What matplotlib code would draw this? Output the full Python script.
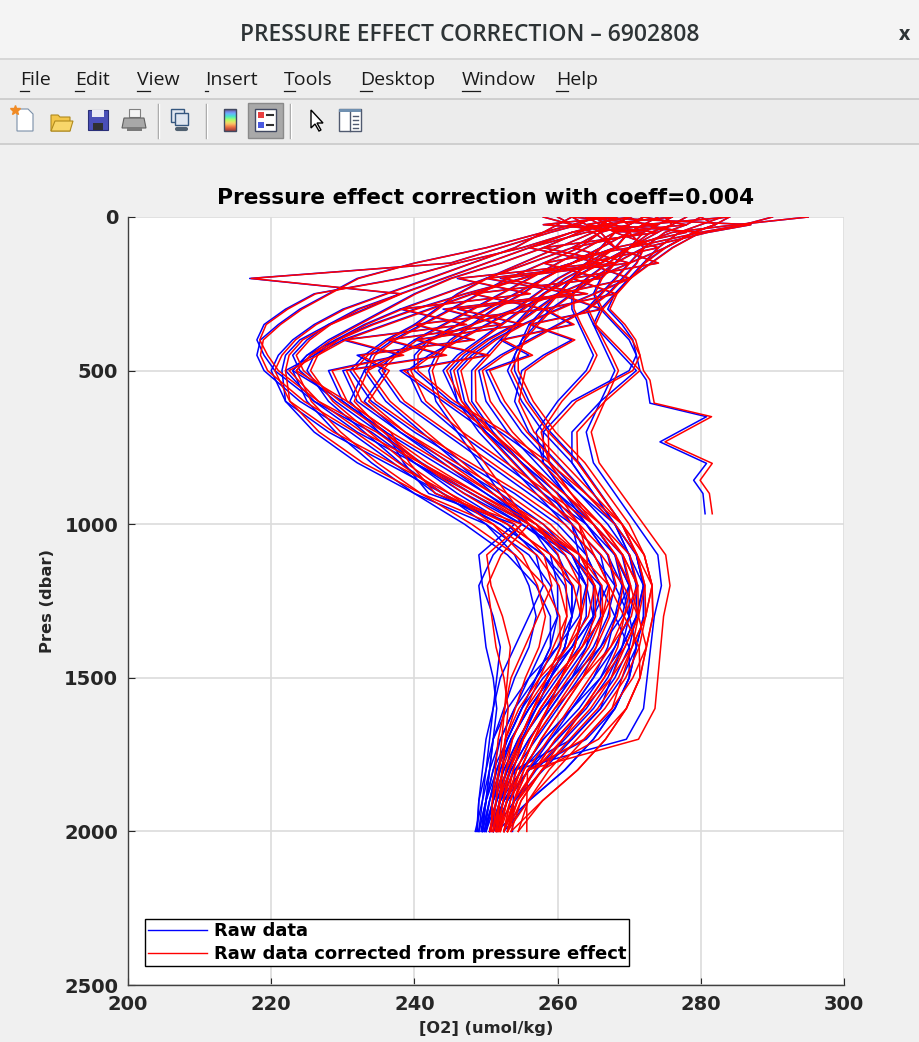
import numpy as np
import matplotlib
matplotlib.use('Agg')
import matplotlib.pyplot as plt
from matplotlib.patches import Rectangle, Polygon
from matplotlib.lines import Line2D
from matplotlib.textpath import TextPath
from matplotlib.font_manager import FontProperties

# ---------------- data ----------------
pres_levels = [0, 25, 50, 100, 150, 200, 250, 300, 350, 400, 450, 500, 600, 700,
               800, 900, 1000, 1100, 1200, 1300, 1400, 1500, 1600, 1700, 1800, 1900, 2000]

raw01 = [266, 262, 258, 250, 240, 232, 228, 224, 221, 218.5, 218, 219, 224, 231, 237, 243, 252, 258, 262, 262, 260, 257, 254, 252, 250.5, 249.5, 248.5]
cor01 = [266, 262, 258, 250.1, 240.1, 232.2, 228.2, 224.3, 221.3, 218.9, 218.5, 219.5, 224.6, 231.7, 237.8, 243.9, 253, 259.1, 263.2, 263.3, 261.4, 258.5, 255.6, 253.7, 252.3, 251.4, 250.5]
raw02 = [270, 268, 262, 255, 246, 238, 226, 222, 219, 218, 219, 220.5, 226, 234, 240, 247, 255, 262, 264, 263, 260, 256, 253, 251, 250, 249, 248.8]
cor02 = [270, 268, 262, 255.1, 246.1, 238.2, 226.2, 222.3, 219.3, 218.4, 219.5, 221, 226.6, 234.7, 240.8, 247.9, 256, 263.1, 265.2, 264.3, 261.4, 257.5, 254.6, 252.7, 251.8, 250.9, 250.8]
raw03 = [265, 263, 259, 252, 245, 217, 238, 232, 228, 225, 223, 224, 229, 235, 240, 246, 253, 257, 258, 256, 254, 252, 251, 250, 249.5, 249, 248.7]
cor03 = [265, 263, 259, 252.1, 245.1, 217.2, 238.2, 232.3, 228.3, 225.4, 223.5, 224.5, 229.6, 235.7, 240.8, 246.9, 254, 258.1, 259.2, 257.3, 255.4, 253.5, 252.6, 251.7, 251.3, 250.9, 250.7]
raw04 = [268, 266, 263, 258, 252, 245, 240, 236, 232, 228, 225, 223, 230, 236, 238.5, 242, 254, 249, 249.5, 251, 252, 251.5, 251, 250.5, 250, 249.5, 249]
cor04 = [268, 266, 263, 258.1, 252.1, 245.2, 240.2, 236.3, 232.3, 228.4, 225.5, 223.5, 230.6, 236.7, 239.3, 242.9, 255, 250.1, 250.7, 252.3, 253.4, 253, 252.6, 252.2, 251.8, 251.4, 251]
raw05 = [272, 270, 266, 262, 256, 250, 244, 238, 233, 229, 226, 225, 228, 233, 238, 244, 250, 254, 256, 257, 256, 254, 252.5, 251, 250.5, 250, 249.5]
cor05 = [272, 270, 266, 262.1, 256.1, 250.2, 244.2, 238.3, 233.3, 229.4, 226.5, 225.5, 228.6, 233.7, 238.8, 244.9, 251, 255.1, 257.2, 258.3, 257.4, 255.5, 254.1, 252.7, 252.3, 251.9, 251.5]
raw06 = [260, 262, 265, 268, 262, 255, 248, 242, 236, 230, 226, 222, 226, 232, 240, 248, 256, 262, 266, 265, 262, 258, 255, 253, 251.5, 250.5, 249.8]
cor06 = [260, 262, 265, 268.1, 262.1, 255.2, 248.2, 242.3, 236.3, 230.4, 226.5, 222.5, 226.6, 232.7, 240.8, 248.9, 257, 263.1, 267.2, 266.3, 263.4, 259.5, 256.6, 254.7, 253.3, 252.4, 251.8]
raw07 = [268, 270, 268, 264, 260, 256, 252, 248, 244, 240, 237, 235, 238, 244, 250, 256, 262, 266, 267, 265, 262, 259, 256, 253.5, 252, 251, 250]
cor07 = [268, 270, 268, 264.1, 260.1, 256.2, 252.2, 248.3, 244.3, 240.4, 237.5, 235.5, 238.6, 244.7, 250.8, 256.9, 263, 267.1, 268.2, 266.3, 263.4, 260.5, 257.6, 255.2, 253.8, 252.9, 252]
raw08 = [274, 272, 270, 268, 264, 260, 257, 254, 250, 246, 242, 239, 241, 246, 252, 258, 264, 268, 270, 268, 266, 262, 258, 255, 253, 251.5, 250.5]
cor08 = [274, 272, 270, 268.1, 264.1, 260.2, 257.2, 254.3, 250.3, 246.4, 242.5, 239.5, 241.6, 246.7, 252.8, 258.9, 265, 269.1, 271.2, 269.3, 267.4, 263.5, 259.6, 256.7, 254.8, 253.4, 252.5]
raw09 = [276, 274, 272, 270, 268, 266, 265, 266, 268, 270, 271, 270, 262, 258, 258, 261, 265, 268, 270, 269, 266, 263, 260, 257, 254, 252, 251]
cor09 = [276, 274, 272, 270.1, 268.1, 266.2, 265.2, 266.3, 268.3, 270.4, 271.5, 270.5, 262.6, 258.7, 258.8, 261.9, 266, 269.1, 271.2, 270.3, 267.4, 264.5, 261.6, 258.7, 255.8, 253.9, 253]
raw10 = [280, 278, 275, 272, 270, 268, 266, 264, 265, 267, 269, 271, 266, 262, 262, 265, 268, 270, 272, 272, 271, 269, 266, 262, 258, 254, 251]
cor10 = [280, 278, 275, 272.1, 270.1, 268.2, 266.2, 264.3, 265.3, 267.4, 269.5, 271.5, 266.6, 262.7, 262.8, 265.9, 269, 271.1, 273.2, 273.3, 272.4, 270.5, 267.6, 263.7, 259.8, 255.9, 253]
raw12 = [264, 266, 268, 266, 262, 258, 254, 250, 246, 242, 240, 240, 245, 252, 258, 263, 268, 271, 272, 271, 269, 267, 264, 260, 256, 253, 251.5]
cor12 = [264, 266, 268, 266.1, 262.1, 258.2, 254.2, 250.3, 246.3, 242.4, 240.5, 240.5, 245.6, 252.7, 258.8, 263.9, 269, 272.1, 273.2, 272.3, 270.4, 268.5, 265.6, 261.7, 257.8, 254.9, 253.5]
raw13 = [270, 268, 265, 260, 255, 250, 246, 243, 240, 236, 233, 231, 234, 240, 247, 254, 260, 264, 266, 266, 264, 261, 258, 255, 253, 251, 250]
cor13 = [270, 268, 265, 260.1, 255.1, 250.2, 246.2, 243.3, 240.3, 236.4, 233.5, 231.5, 234.6, 240.7, 247.8, 254.9, 261, 265.1, 267.2, 267.3, 265.4, 262.5, 259.6, 256.7, 254.8, 252.9, 252]
raw14 = [262, 264, 266, 268, 265, 261, 258, 255, 252, 249, 246, 244, 246, 250, 255, 260, 265, 269, 270, 270, 268, 266, 263, 259, 255, 252.5, 251]
cor14 = [262, 264, 266, 268.1, 265.1, 261.2, 258.2, 255.3, 252.3, 249.4, 246.5, 244.5, 246.6, 250.7, 255.8, 260.9, 266, 270.1, 271.2, 271.3, 269.4, 267.5, 264.6, 260.7, 256.8, 254.4, 253]
raw15 = [283, 280, 277, 274, 272, 270, 268, 266, 265, 266, 267, 268, 266, 264, 265, 268, 271, 274, 274.5, 273.5, 273, 272.5, 272, 269.6, 254, 253.8, 253.7]
cor15 = [283, 280, 277, 274.1, 272.1, 270.2, 268.2, 266.3, 265.3, 266.4, 267.5, 268.5, 266.6, 264.7, 265.8, 268.9, 272, 275.1, 275.7, 274.8, 274.4, 274, 273.6, 271.3, 255.8, 255.7, 255.7]
raw16 = [290, 286, 280, 276, 273, 270, 265, 260, 255, 251, 248, 246, 247, 250, 254, 258, 262, 264, 266, 268, 270, 270, 268, 264, 256, 252.5, 250.5]
cor16 = [290, 286, 280, 276.1, 273.1, 270.2, 265.2, 260.3, 255.3, 251.4, 248.5, 246.5, 247.6, 250.7, 254.8, 258.9, 263, 265.1, 267.2, 269.3, 271.4, 271.5, 269.6, 265.7, 257.8, 254.4, 252.5]
raw17 = [275, 276, 274, 270, 266, 262, 258, 256, 254, 252, 250, 248, 248, 251, 255, 259, 262, 263, 263, 262, 261, 259, 257, 255, 253, 251.5, 250.5]
cor17 = [275, 276, 274, 270.1, 266.1, 262.2, 258.2, 256.3, 254.3, 252.4, 250.5, 248.5, 248.6, 251.7, 255.8, 259.9, 263, 264.1, 264.2, 263.3, 262.4, 260.5, 258.6, 256.7, 254.8, 253.4, 252.5]
raw18 = [268, 266, 262, 256, 250, 244, 238, 233, 228, 224, 222, 221.5, 222, 226, 232, 240, 250, 256, 259, 260, 258, 256, 254, 252, 251, 250, 249]
cor18 = [268, 266, 262, 256.1, 250.1, 244.2, 238.2, 233.3, 228.3, 224.4, 222.5, 222, 222.6, 226.7, 232.8, 240.9, 251, 257.1, 260.2, 261.3, 259.4, 257.5, 255.6, 253.7, 252.8, 251.9, 251]
raw19 = [266, 268, 270, 272, 271, 269, 267, 264, 260, 256, 252, 249, 250, 253, 257, 261, 265, 268, 269, 268, 267, 265, 262, 259, 256, 253, 251]
cor19 = [266, 268, 270, 272.1, 271.1, 269.2, 267.2, 264.3, 260.3, 256.4, 252.5, 249.5, 250.6, 253.7, 257.8, 261.9, 266, 269.1, 270.2, 269.3, 268.4, 266.5, 263.6, 260.7, 257.8, 254.9, 253]
raw20 = [295, 285, 276, 270, 266, 262, 260, 258, 256, 255, 254, 253, 255, 258, 262, 265, 268, 270, 271, 271, 270, 268, 265, 261, 257, 254, 252.5]
cor20 = [295, 285, 276, 270.1, 266.1, 262.2, 260.2, 258.3, 256.3, 255.4, 254.5, 253.5, 255.6, 258.7, 262.8, 265.9, 269, 271.1, 272.2, 272.3, 271.4, 269.5, 266.6, 262.7, 258.8, 255.9, 254.5]
raw21 = [262, 260, 258, 254, 248, 242, 236, 230, 226, 223, 221, 220, 222, 228, 236, 244, 252, 258, 261, 262, 261, 259, 256, 253.5, 251.5, 250, 249]
cor21 = [262, 260, 258, 254.1, 248.1, 242.2, 236.2, 230.3, 226.3, 223.4, 221.5, 220.5, 222.6, 228.7, 236.8, 244.9, 253, 259.1, 262.2, 263.3, 262.4, 260.5, 257.6, 255.2, 253.3, 251.9, 251]
raw22 = [270, 272, 270, 266, 262, 258, 255, 251, 248, 245, 243, 242, 243, 246, 249, 252, 255, 251, 249, 249.5, 250, 251, 251.5, 251, 250.5, 250, 249.5]
cor22 = [270, 272, 270, 266.1, 262.1, 258.2, 255.2, 251.3, 248.3, 245.4, 243.5, 242.5, 243.6, 246.7, 249.8, 252.9, 256, 252.1, 250.2, 250.8, 251.4, 252.5, 253.1, 252.7, 252.3, 251.9, 251.5]
raw23 = [272, 270, 268, 266, 264, 262, 260, 257, 254, 250, 247, 245, 246, 249, 253, 257, 261, 265, 268, 270, 271, 270, 268, 265, 261, 256, 251.5]
cor23 = [272, 270, 268, 266.1, 264.1, 262.2, 260.2, 257.3, 254.3, 250.4, 247.5, 245.5, 246.6, 249.7, 253.8, 257.9, 262, 266.1, 269.2, 271.3, 272.4, 271.5, 269.6, 266.7, 262.8, 257.9, 253.5]
raw24 = [278, 276, 273, 270, 267, 264, 262, 262, 263, 264, 265, 264, 260, 257, 258, 261, 264, 267, 269, 270, 269, 267.5, 266, 262, 254, 252, 251]
cor24 = [278, 276, 273, 270.1, 267.1, 264.2, 262.2, 262.3, 263.3, 264.4, 265.5, 264.5, 260.6, 257.7, 258.8, 261.9, 265, 268.1, 270.2, 271.3, 270.4, 269, 267.6, 263.7, 255.8, 253.9, 253]
raw25 = [265, 267, 266, 263, 258, 253, 249, 245, 241, 237, 234, 233, 236, 241, 246, 251, 256, 259, 260, 260, 259, 257, 255, 253, 251.5, 250.5, 249.5]
cor25 = [265, 267, 266, 263.1, 258.1, 253.2, 249.2, 245.3, 241.3, 237.4, 234.5, 233.5, 236.6, 241.7, 246.8, 251.9, 257, 260.1, 261.2, 261.3, 260.4, 258.5, 256.6, 254.7, 253.3, 252.4, 251.5]
raw26 = [280, 282, 279, 275, 270, 265, 260, 254, 248, 242, 237, 233, 231, 235, 241, 248, 255, 261, 264, 265, 264, 262, 259, 256, 253.5, 252, 250.5]
cor26 = [280, 282, 279, 275.1, 270.1, 265.2, 260.2, 254.3, 248.3, 242.4, 237.5, 233.5, 231.6, 235.7, 241.8, 248.9, 256, 262.1, 265.2, 266.3, 265.4, 263.5, 260.6, 257.7, 255.3, 253.9, 252.5]
raw27 = [264, 287, 281, 272, 268, 265, 262, 259, 257, 255, 254, 254, 256, 259, 263, 266, 269, 271, 272, 272, 271, 270, 268, 265, 261, 256, 252.5]
cor27 = [264, 287, 281, 272.1, 268.1, 265.2, 262.2, 259.3, 257.3, 255.4, 254.5, 254.5, 256.6, 259.7, 263.8, 266.9, 270, 272.1, 273.2, 273.3, 272.4, 271.5, 269.6, 266.7, 262.8, 257.9, 254.5]
raw28 = [258, 262, 270, 268, 262, 255, 247, 240, 234, 229, 225, 223, 225, 229, 234, 240, 247, 253, 257, 259, 259, 257, 255, 253, 251, 250, 249.3]
cor28 = [258, 262, 270, 268.1, 262.1, 255.2, 247.2, 240.3, 234.3, 229.4, 225.5, 223.5, 225.6, 229.7, 234.8, 240.9, 248, 254.1, 258.2, 260.3, 260.4, 258.5, 256.6, 254.7, 252.8, 251.9, 251.3]
raw29 = [268, 258, 272, 262, 270, 252, 264, 246, 255, 240, 250, 238, 244, 250, 255, 260, 264, 267, 268, 267, 265, 262, 259, 256, 253.5, 251.5, 250]
cor29 = [268, 258, 272, 262.1, 270.1, 252.2, 264.2, 246.3, 255.3, 240.4, 250.5, 238.5, 244.6, 250.7, 255.8, 260.9, 265, 268.1, 269.2, 268.3, 266.4, 263.5, 260.6, 257.7, 255.3, 253.4, 252]
raw30 = [276, 266, 280, 270, 258, 266, 248, 258, 240, 248, 232, 236, 233, 238, 244, 250, 256, 260, 262, 262, 261, 259, 257, 254.5, 252.5, 251, 249.8]
cor30 = [276, 266, 280, 270.1, 258.1, 266.2, 248.2, 258.3, 240.3, 248.4, 232.5, 236.5, 233.6, 238.7, 244.8, 250.9, 257, 261.1, 263.2, 263.3, 262.4, 260.5, 258.6, 256.2, 254.3, 252.9, 251.8]
raw31 = [262, 274, 264, 256, 266, 246, 256, 238, 247, 230, 238, 228, 230, 236, 243, 250, 257, 262, 265, 265, 263, 260, 257, 254.5, 252.5, 251, 249.7]
cor31 = [262, 274, 264, 256.1, 266.1, 246.2, 256.2, 238.3, 247.3, 230.4, 238.5, 228.5, 230.6, 236.7, 243.8, 250.9, 258, 263.1, 266.2, 266.3, 264.4, 261.5, 258.6, 256.2, 254.3, 252.9, 251.7]
raw32 = [284, 272, 278, 268, 274, 262, 268, 258, 262, 252, 256, 250, 252, 255, 259, 263, 267, 270, 271, 270, 268, 265, 262, 258, 255, 252.5, 251]
cor32 = [284, 272, 278, 268.1, 274.1, 262.2, 268.2, 258.3, 262.3, 252.4, 256.5, 250.5, 252.6, 255.7, 259.8, 263.9, 268, 271.1, 272.2, 271.3, 269.4, 266.5, 263.6, 259.7, 256.8, 254.4, 253]
raw33 = [270, 264, 274, 258, 268, 250, 262, 244, 252, 236, 244, 230, 232, 238, 245, 252, 258, 262, 264, 264, 262, 259, 256, 253.5, 252, 250.5, 249.5]
cor33 = [270, 264, 274, 258.1, 268.1, 250.2, 262.2, 244.3, 252.3, 236.4, 244.5, 230.5, 232.6, 238.7, 245.8, 252.9, 259, 263.1, 265.2, 265.3, 263.4, 260.5, 257.6, 255.2, 253.8, 252.4, 251.5]
raw34 = [272, 278, 268, 274, 264, 270, 260, 266, 256, 262, 258, 255, 254, 256, 260, 264, 268, 271, 272, 271, 269, 266, 262, 258, 255, 252, 250.5]
cor34 = [272, 278, 268, 274.1, 264.1, 270.2, 260.2, 266.3, 256.3, 262.4, 258.5, 255.5, 254.6, 256.7, 260.8, 264.9, 269, 272.1, 273.2, 272.3, 270.4, 267.5, 263.6, 259.7, 256.8, 253.9, 252.5]

# short profile (ends near 970 dbar) with its own pressure levels
pres11 = [0, 25, 50, 100, 150, 200, 250, 300, 350, 400, 450, 500, 531, 606, 650, 732, 802, 857, 900, 966]
raw11 = [284, 282, 279, 275, 272, 270, 268, 267, 269, 270.5, 271, 271.5, 272.4, 272.9, 280.8, 274.3, 280.8, 279, 280.3, 280.6]
cor11 = [284, 282, 279.1, 275.1, 272.2, 270.2, 268.3, 267.3, 269.4, 270.9, 271.5, 272, 272.9, 273.5, 281.5, 275, 281.6, 279.9, 281.2, 281.6]

raw_profiles = [raw01, raw02, raw03, raw04, raw05, raw06, raw07, raw08, raw09, raw10,
                raw12, raw13, raw14, raw15, raw16, raw17, raw18, raw19, raw20, raw21,
                raw22, raw23, raw24, raw25, raw26, raw27, raw28, raw29, raw30, raw31,
                raw32, raw33, raw34]
cor_profiles = [cor01, cor02, cor03, cor04, cor05, cor06, cor07, cor08, cor09, cor10,
                cor12, cor13, cor14, cor15, cor16, cor17, cor18, cor19, cor20, cor21,
                cor22, cor23, cor24, cor25, cor26, cor27, cor28, cor29, cor30, cor31,
                cor32, cor33, cor34]

x_ticks = [200, 220, 240, 260, 280, 300]
y_ticks = [0, 500, 1000, 1500, 2000, 2500]
window_title = 'PRESSURE EFFECT CORRECTION – 6902808'
menu_items = ['File', 'Edit', 'View', 'Insert', 'Tools', 'Desktop', 'Window', 'Help']
menu_x = [20, 75, 137, 205, 284, 360, 462, 556]
plot_title = 'Pressure effect correction with coeff=0.004'
legend_labels = ['Raw data', 'Raw data corrected from pressure effect']

# ---------------- figure / window chrome ----------------
W, H = 919, 1042
fig = plt.figure(figsize=(W / 100, H / 100), dpi=100, facecolor='#f0f0f0')
ov = fig.add_axes([0, 0, 1, 1], zorder=0)
ov.set_xlim(0, W)
ov.set_ylim(H, 0)
ov.axis('off')

# title bar
ov.add_patch(Rectangle((0, 0), W, 58, facecolor='#f4f4f4', edgecolor='none'))
ov.plot([0, W], [58.5, 58.5], color='#d2d2d2', lw=1.2)
ov.text(470, 35, window_title, ha='center', va='center', fontsize=16.5,
        family='Open Sans', weight='semibold', color='#2e3436')
ov.text(905, 35, 'x', ha='center', va='center', fontsize=14, family='Open Sans',
        weight='bold', color='#2e3436')

# menu bar
ov.add_patch(Rectangle((0, 60), W, 38, facecolor='#eeeeee', edgecolor='none'))
ov.plot([0, W], [98.5, 98.5], color='#c9c9c9', lw=1.2)
menu_fs = 14
fp_menu = FontProperties(family='Open Sans', size=menu_fs)
for lab, mx in zip(menu_items, menu_x):
    ov.text(mx, 80, lab, ha='left', va='center', fontproperties=fp_menu, color='#1a1a1a')
    w0 = TextPath((0, 0), lab[0], prop=fp_menu).get_extents().width * 100 / 72
    ov.plot([mx, mx + w0 + 1], [91, 91], color='#1a1a1a', lw=0.9)

# toolbar
ov.add_patch(Rectangle((0, 99), W, 44, facecolor='#ececec', edgecolor='none'))
ov.plot([0, W], [144, 144], color='#c9c9c9', lw=1.2)
for sx in [158, 206, 290]:
    ov.plot([sx, sx], [104, 138], color='#9a9a9a', lw=1)
    ov.plot([sx + 1, sx + 1], [104, 138], color='#ffffff', lw=1)
# new document
ov.add_patch(Polygon([[17, 109], [28, 109], [33, 114], [33, 131], [17, 131]], closed=True,
                     facecolor='#ffffff', edgecolor='#7a8fa8', lw=0.8))
ov.plot([15], [110], marker='*', color='#f08a24', ms=7)
# open folder
ov.add_patch(Polygon([[51, 115], [58, 115], [60, 117], [70, 117], [70, 131], [51, 131]],
                     closed=True, facecolor='#f3c64a', edgecolor='#b08a1e', lw=0.8))
ov.add_patch(Polygon([[51, 131], [55, 121], [73, 121], [70, 131]], closed=True,
                     facecolor='#f8d66a', edgecolor='#b08a1e', lw=0.8))
# save
ov.add_patch(Rectangle((88, 110), 20, 20, facecolor='#4a4fb8', edgecolor='#2a2f78', lw=0.8))
ov.add_patch(Rectangle((92, 110), 12, 7, facecolor='#e8e8f4', edgecolor='none'))
ov.add_patch(Rectangle((93, 123), 10, 7, facecolor='#303030', edgecolor='none'))
# print
ov.add_patch(Rectangle((129, 109), 11, 8, facecolor='#f4f4f4', edgecolor='#808080', lw=0.8))
ov.add_patch(Polygon([[124, 118], [144, 118], [146, 128], [122, 128]], closed=True,
                     facecolor='#a8a8a8', edgecolor='#606060', lw=0.8))
ov.add_patch(Rectangle((127, 127), 15, 4, facecolor='#7a7a7a', edgecolor='none'))
# link
ov.add_patch(Rectangle((171, 109), 13, 13, facecolor='#dfe6f0', edgecolor='#35577f', lw=1))
ov.add_patch(Rectangle((175, 113), 13, 12, facecolor='#dfe6f0', edgecolor='#35577f', lw=1))
ov.plot([177, 186], [129, 129], color='#506070', lw=3, solid_capstyle='round')
# colorbar icon
grad = np.linspace(0, 1, 50).reshape(-1, 1)
ov.imshow(grad, cmap='turbo', extent=(224, 236, 131, 109), aspect='auto', zorder=3,
          alpha=0.75)
ov.add_patch(Rectangle((224, 109), 12, 22, facecolor='none', edgecolor='#404860', lw=1, zorder=4))
# legend button (pressed)
ov.add_patch(Rectangle((248, 103), 35, 35, facecolor='#a9a9a9', edgecolor='#8a8a8a', lw=1))
ov.add_patch(Rectangle((255, 109), 21, 22, facecolor='#ffffff', edgecolor='#404860', lw=1))
ov.add_patch(Rectangle((258, 112), 6, 6, facecolor='#e84040', edgecolor='none'))
ov.add_patch(Rectangle((258, 122), 6, 6, facecolor='#4a5ae0', edgecolor='none'))
ov.plot([267, 273], [115, 115], color='#303030', lw=1.5)
ov.plot([267, 273], [125, 125], color='#303030', lw=1.5)
# arrow cursor
ov.add_patch(Polygon([[311, 110], [311, 128], [315, 124], [319, 131], [321, 130],
                      [317, 123], [323, 123]], closed=True, facecolor='#ffffff',
                     edgecolor='#000000', lw=1))
# property inspector
ov.add_patch(Rectangle((339, 109), 22, 22, facecolor='#ffffff', edgecolor='#505a70', lw=1))
ov.add_patch(Rectangle((339, 109), 22, 3, facecolor='#7090b0', edgecolor='none'))
ov.plot([350, 350], [112, 131], color='#505a70', lw=1)
for yy in [116, 120, 124, 128]:
    ov.plot([353, 358], [yy, yy], color='#505a70', lw=1)

# ---------------- main axes ----------------
ax = fig.add_axes([128 / W, 57 / H, 716 / W, 768 / H], zorder=2)
ax.set_facecolor('#ffffff')

for prof in raw_profiles:
    ax.plot(prof, pres_levels, color='#0000ff', lw=1.1)
ax.plot(raw11, pres11, color='#0000ff', lw=1.1)
for prof in cor_profiles:
    ax.plot(prof, pres_levels, color='#ff0000', lw=1.1)
ax.plot(cor11, pres11, color='#ff0000', lw=1.1)

ax.set_xlim(200, 300)
ax.set_ylim(2500, 0)
ax.set_xticks(x_ticks)
ax.set_yticks(y_ticks)
ax.set_xticklabels([str(v) for v in x_ticks], fontweight='bold', fontsize=14)
ax.set_yticklabels([str(v) for v in y_ticks], fontweight='bold', fontsize=14)
ax.grid(True, color='#dcdcdc', lw=1.2)
ax.set_axisbelow(True)
for s in ['top', 'right']:
    ax.spines[s].set_visible(False)
for s in ['left', 'bottom']:
    ax.spines[s].set_color('#404040')
    ax.spines[s].set_linewidth(1.0)
ax.tick_params(direction='in', length=5, width=0.8, colors='#262626', pad=7)

ax.text(0.5, 1 + 19 / 768, plot_title, transform=ax.transAxes, ha='center', va='center',
        fontsize=15.7, fontweight='bold', color='#000000')
fig.text(486 / W, 1 - 1028 / H, '[O2] (umol/kg)', ha='center', va='center',
         fontsize=11.7, fontweight='bold', color='#262626')
fig.text(47 / W, 1 - 601 / H, 'Pres (dbar)', ha='center', va='center', rotation=90,
         fontsize=11.7, fontweight='bold', color='#262626')

handles = [Line2D([], [], color='#0000ff', lw=1.0), Line2D([], [], color='#ff0000', lw=1.0)]
leg = ax.legend(handles, legend_labels, loc='lower left',
                bbox_to_anchor=(17 / 716, 19 / 768), borderaxespad=0,
                prop={'weight': 'bold', 'size': 13}, handlelength=3.3, handletextpad=0.35,
                fancybox=False, framealpha=1, edgecolor='#000000', borderpad=0.15,
                labelspacing=0.3)
leg.get_frame().set_linewidth(1.0)

fig.savefig('out.png', dpi=100, facecolor=fig.get_facecolor())
